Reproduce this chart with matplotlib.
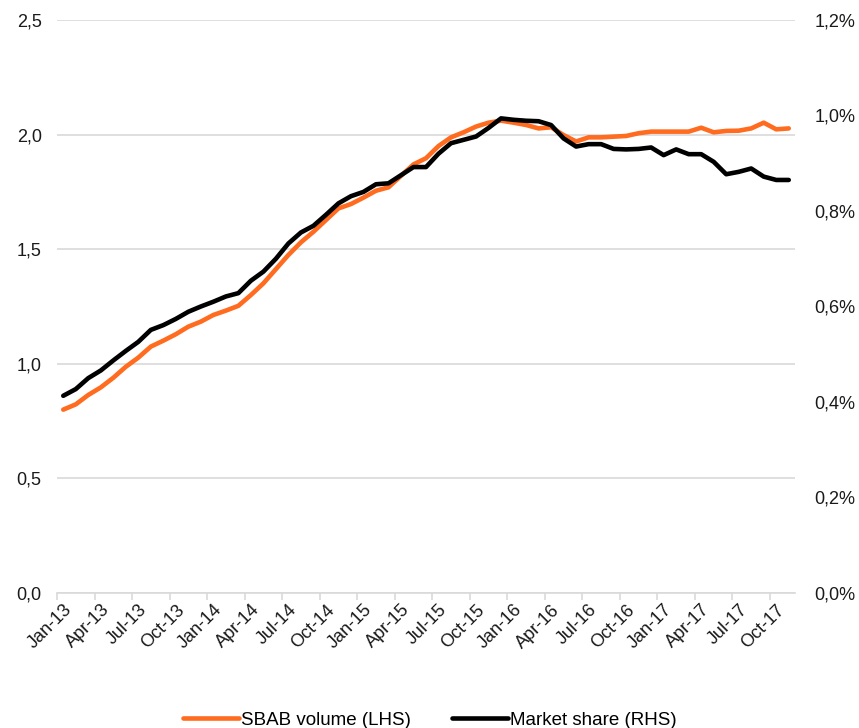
import numpy as np
import matplotlib.pyplot as plt
from matplotlib.ticker import FuncFormatter

plt.rcParams['font.family'] = ['Liberation Sans', 'DejaVu Sans']

# monthly data, Jan-13 .. Nov-17
months = ['Jan', 'Feb', 'Mar', 'Apr', 'May', 'Jun', 'Jul', 'Aug', 'Sep', 'Oct', 'Nov', 'Dec']
labels = [f'{m}-{y}' for y in range(13, 18) for m in months][:59]

sbab_volume = [0.80, 0.823, 0.864, 0.897, 0.939, 0.987, 1.027, 1.075, 1.101, 1.129, 1.162, 1.184,
               1.213, 1.232, 1.253, 1.30, 1.351, 1.413, 1.475, 1.53, 1.576, 1.627, 1.678, 1.697,
               1.725, 1.755, 1.77, 1.82, 1.87, 1.897, 1.95, 1.988, 2.010, 2.035, 2.052, 2.061,
               2.052, 2.042, 2.027, 2.032, 1.998, 1.970, 1.988, 1.988, 1.991, 1.994, 2.006, 2.013,
               2.013, 2.013, 2.013, 2.030, 2.010, 2.016, 2.017, 2.027, 2.052, 2.023, 2.027]

market_share = [0.413, 0.427, 0.450, 0.466, 0.487, 0.507, 0.526, 0.551, 0.561, 0.574, 0.589, 0.600,
                0.610, 0.621, 0.628, 0.654, 0.673, 0.700, 0.732, 0.755, 0.769, 0.792, 0.816, 0.831,
                0.840, 0.856, 0.858, 0.875, 0.892, 0.892, 0.92, 0.942, 0.949, 0.956, 0.974, 0.994,
                0.991, 0.989, 0.988, 0.980, 0.952, 0.935, 0.940, 0.940, 0.930, 0.929, 0.930, 0.933,
                0.917, 0.929, 0.919, 0.919, 0.903, 0.877, 0.882, 0.889, 0.872, 0.865, 0.865]
market_share = np.array(market_share) / 100.

orange = '#ff6b1f'
grid_col = '#d9d9d9'
txt_col = '#1a1a1a'
fs = 13
x = np.arange(len(labels))

fig = plt.figure(figsize=(8.59, 7.28), dpi=100)
ax = fig.add_axes([57 / 859, 1 - 593 / 728, (795 - 57) / 859, (593 - 20) / 728])
ax2 = ax.twinx()

ax.plot(x, sbab_volume, color=orange, lw=3.3, solid_capstyle='round', label='SBAB volume (LHS)', zorder=3)
ax2.plot(x, market_share, color='black', lw=3.3, solid_capstyle='round', label='Market share (RHS)')

ax.set_xlim(-0.5, len(labels) - 0.5)
ax.set_ylim(0, 2.5)
ax2.set_ylim(0, 0.012)
ax.set_yticks(np.arange(0, 2.51, 0.5))
ax2.set_yticks(np.arange(0, 0.0121, 0.002))
ax.yaxis.set_major_formatter(FuncFormatter(lambda v, p: f'{v:.1f}'.replace('.', ',')))
ax2.yaxis.set_major_formatter(FuncFormatter(lambda v, p: f'{v * 100:.1f}%'.replace('.', ',')))

ax.grid(axis='y', color=grid_col, lw=1.2)
ax.set_axisbelow(True)

for a in (ax, ax2):
    for s in a.spines.values():
        s.set_visible(False)
ax.spines['bottom'].set_visible(True)
ax.spines['bottom'].set_color(grid_col)
ax.spines['bottom'].set_linewidth(1.2)

ax.tick_params(axis='y', length=0, pad=11, labelsize=fs, colors=txt_col)
ax2.tick_params(axis='y', length=0, pad=14, labelsize=fs, colors=txt_col)

# tick marks on category boundaries, labels on category centres
ax.set_xticks(np.arange(-0.5, len(labels) - 1, 3))
ax.set_xticklabels([])
ax.tick_params(axis='x', which='major', length=5, color=grid_col, width=1.2)
ax.set_xticks(x[::3], minor=True)
ax.set_xticklabels(labels[::3], minor=True, rotation=45, ha='right', va='top',
                   rotation_mode='anchor', fontsize=fs, color=txt_col)
ax.tick_params(axis='x', which='minor', length=0, pad=6)

h1, l1 = ax.get_legend_handles_labels()
h2, l2 = ax2.get_legend_handles_labels()
fig.legend(h1 + h2, l1 + l2, loc='lower center', bbox_to_anchor=(0.5, -0.024), ncol=2,
           frameon=False, fontsize=fs + 0.5, handlelength=3.0, handletextpad=0.1, columnspacing=2.2)

fig.savefig('out.png', dpi=100)
